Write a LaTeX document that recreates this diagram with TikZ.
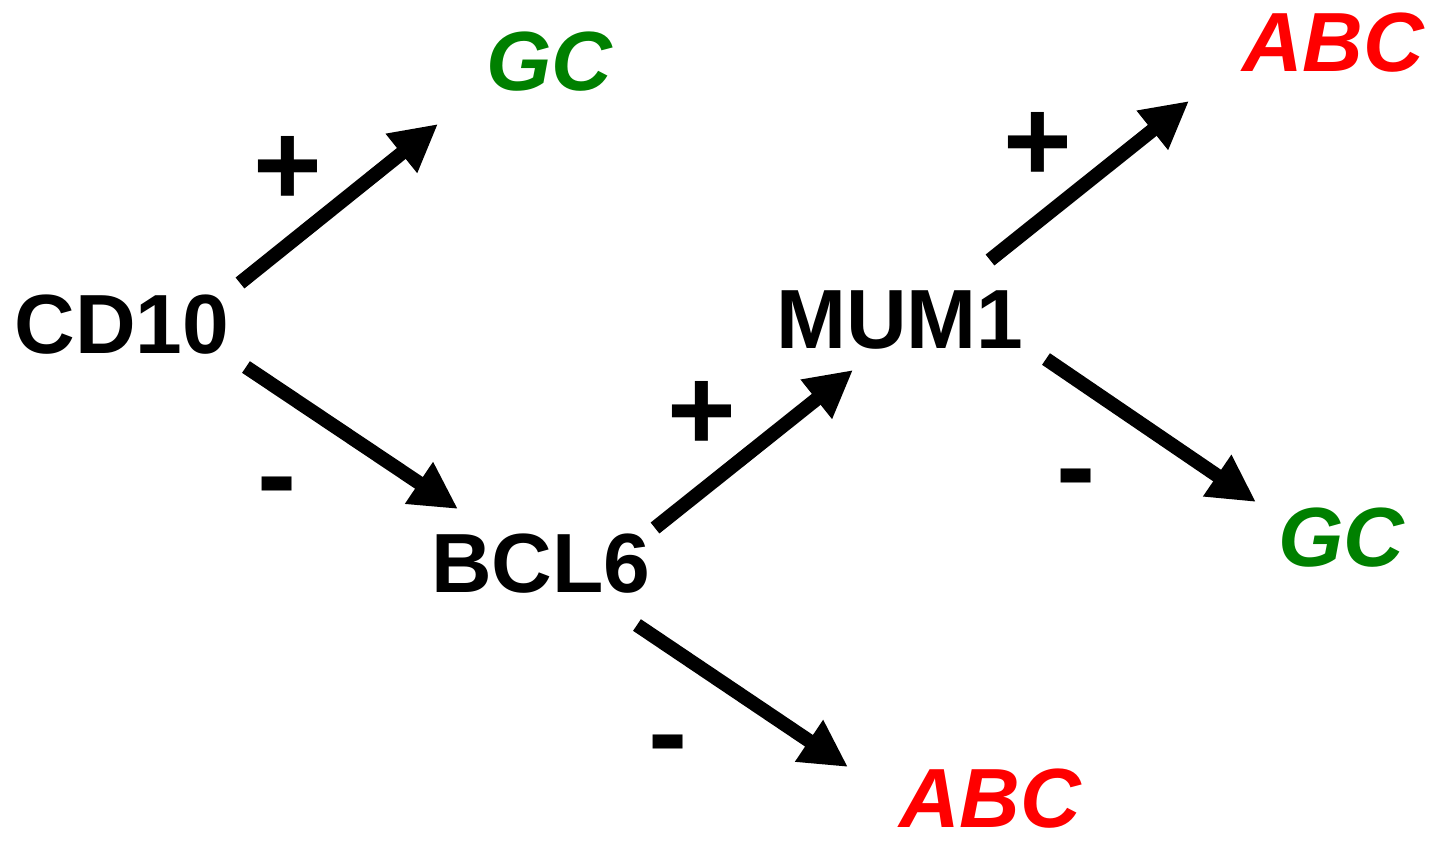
\documentclass[tikz,border=0pt]{standalone}
\usepackage{fontspec}
\setmainfont{Liberation Sans}
\usetikzlibrary{arrows.meta}
\definecolor{gcgreen}{RGB}{0,128,0}
\definecolor{abcred}{RGB}{255,0,0}
\tikzset{
  gene/.style={inner sep=0pt, font=\fontsize{47.8pt}{50pt}\selectfont\bfseries},
  gcout/.style={gene, text=gcgreen, font=\fontsize{47.8pt}{50pt}\selectfont\bfseries\itshape},
  abcout/.style={gene, text=abcred, font=\fontsize{47.8pt}{50pt}\selectfont\bfseries\itshape},
  sign/.style={inner sep=0pt, font=\fontsize{67pt}{70pt}\selectfont\bfseries},
  link/.style={line width=0.28cm, -{Triangle[length=0.94cm,width=0.94cm]}},
}
\begin{document}
\begin{tikzpicture}
\useasboundingbox (0,0) rectangle (28.72,-16.82);
% markers
\node[gene] (cd10) at (2.44,-6.50) {CD10};
\node[gene] (bcl6) at (10.82,-11.28) {BCL6};
\node[gene] (mum1) at (18.00,-6.40) {MUM1};
% outcomes
\node[gcout] (gc1) at (10.98,-1.24) {GC};
\node[abcout] (abc1) at (26.66,-0.86) {ABC};
\node[gcout] (gc2) at (26.82,-10.76) {GC};
\node[abcout] (abc2) at (19.80,-15.98) {ABC};
% arrow ends
\coordinate (cd10-up) at (4.80,-5.66);
\coordinate (gc1-in) at (8.76,-2.48);
\coordinate (cd10-dn) at (4.92,-7.34);
\coordinate (bcl6-in) at (9.16,-10.18);
\coordinate (bcl6-up) at (13.10,-10.56);
\coordinate (mum1-in) at (17.06,-7.40);
\coordinate (bcl6-dn) at (12.74,-12.50);
\coordinate (abc2-in) at (16.96,-15.34);
\coordinate (mum1-up) at (19.80,-5.20);
\coordinate (abc1-in) at (23.78,-2.02);
\coordinate (mum1-dn) at (20.92,-7.18);
\coordinate (gc2-in) at (25.12,-10.04);
\draw[link] (cd10-up) -- (gc1-in);
\draw[link] (cd10-dn) -- (bcl6-in);
\draw[link] (bcl6-up) -- (mum1-in);
\draw[link] (bcl6-dn) -- (abc2-in);
\draw[link] (mum1-up) -- (abc1-in);
\draw[link] (mum1-dn) -- (gc2-in);
% signs
\node[sign] (s1) at (5.76,-3.42) {+};
\node[sign] (s2) at (5.54,-9.92) {-};
\node[sign] (s3) at (14.04,-8.32) {+};
\node[sign] (s4) at (13.36,-15.08) {-};
\node[sign] (s5) at (20.76,-2.94) {+};
\node[sign] (s6) at (21.52,-9.76) {-};
\end{tikzpicture}
\end{document}
